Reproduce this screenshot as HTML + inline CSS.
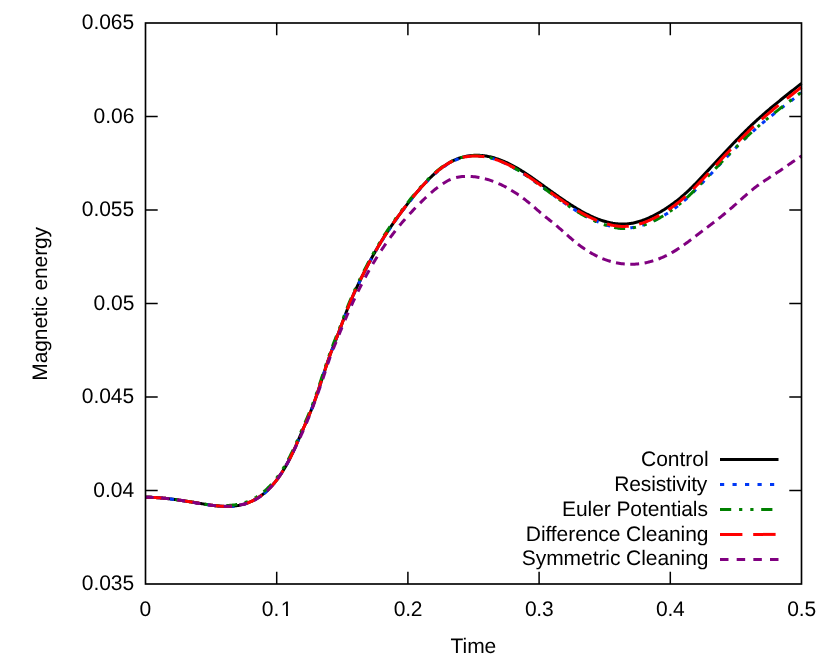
<!DOCTYPE html>
<html><head><meta charset="utf-8"><title>Magnetic energy</title>
<style>html,body{margin:0;padding:0;background:#fff;}body{width:830px;height:664px;overflow:hidden;font-family:"Liberation Sans",sans-serif;}svg{display:block;will-change:transform;text-rendering:geometricPrecision;}</style>
</head><body>
<svg width="830" height="664" viewBox="0 0 830 664">
<rect width="830" height="664" fill="#fff"/>
<g stroke="#000" stroke-width="1.5" fill="none" stroke-linecap="butt">
<path d="M145.5,490.50 h12.2 M801.5,490.50 h-12.2"/>
<path d="M145.5,397.00 h12.2 M801.5,397.00 h-12.2"/>
<path d="M145.5,303.50 h12.2 M801.5,303.50 h-12.2"/>
<path d="M145.5,210.00 h12.2 M801.5,210.00 h-12.2"/>
<path d="M145.5,116.50 h12.2 M801.5,116.50 h-12.2"/>
<path d="M276.70,584.0 v-12.2 M276.70,23.0 v12.2"/>
<path d="M407.90,584.0 v-12.2 M407.90,23.0 v12.2"/>
<path d="M539.10,584.0 v-12.2 M539.10,23.0 v12.2"/>
<path d="M670.30,584.0 v-12.2 M670.30,23.0 v12.2"/>
</g>
<g fill="none" stroke-width="3" stroke-linejoin="round">
<path stroke="#000" d="M145.50,497.23 L146.44,497.23 L147.38,497.24 L148.32,497.26 L149.25,497.28 L150.19,497.31 L151.13,497.34 L152.07,497.38 L153.01,497.42 L153.95,497.47 L154.88,497.52 L155.82,497.57 L156.76,497.63 L157.70,497.70 L158.64,497.77 L159.58,497.84 L160.52,497.91 L161.45,498.00 L162.39,498.08 L163.33,498.17 L164.27,498.26 L165.21,498.35 L166.15,498.45 L167.09,498.55 L168.02,498.66 L168.96,498.77 L169.90,498.88 L170.84,498.99 L171.78,499.11 L172.72,499.23 L173.65,499.35 L174.59,499.47 L175.53,499.60 L176.47,499.73 L177.41,499.86 L178.35,500.00 L179.29,500.13 L180.22,500.27 L181.16,500.41 L182.10,500.55 L183.04,500.69 L183.98,500.83 L184.92,500.98 L185.85,501.13 L186.79,501.27 L187.73,501.42 L188.67,501.57 L189.61,501.72 L190.55,501.88 L191.49,502.03 L192.42,502.18 L193.36,502.33 L194.30,502.49 L195.24,502.64 L196.18,502.80 L197.12,502.95 L198.06,503.10 L198.99,503.26 L199.93,503.41 L200.87,503.57 L201.81,503.72 L202.75,503.87 L203.69,504.02 L204.62,504.17 L205.56,504.32 L206.50,504.47 L207.44,504.62 L208.38,504.76 L209.32,504.90 L210.26,505.04 L211.19,505.17 L212.13,505.30 L213.07,505.42 L214.01,505.54 L214.95,505.65 L215.89,505.76 L216.82,505.86 L217.76,505.95 L218.70,506.03 L219.64,506.11 L220.58,506.18 L221.52,506.25 L222.46,506.30 L223.39,506.34 L224.33,506.38 L225.27,506.40 L226.21,506.41 L227.15,506.42 L228.09,506.41 L229.03,506.39 L229.96,506.35 L230.90,506.31 L231.84,506.25 L232.78,506.18 L233.72,506.09 L234.66,505.99 L235.59,505.88 L236.53,505.75 L237.47,505.61 L238.41,505.44 L239.35,505.27 L240.29,505.07 L241.23,504.86 L242.16,504.64 L243.10,504.39 L244.04,504.13 L244.98,503.84 L245.92,503.54 L246.86,503.22 L247.79,502.88 L248.73,502.51 L249.67,502.13 L250.61,501.73 L251.55,501.30 L252.49,500.85 L253.43,500.38 L254.36,499.89 L255.30,499.37 L256.24,498.83 L257.18,498.27 L258.12,497.68 L259.06,497.07 L259.99,496.43 L260.93,495.76 L261.87,495.07 L262.81,494.35 L263.75,493.60 L264.69,492.82 L265.63,492.01 L266.56,491.18 L267.50,490.31 L268.44,489.40 L269.38,488.47 L270.32,487.50 L271.26,486.50 L272.20,485.46 L273.13,484.39 L274.07,483.28 L275.01,482.14 L275.95,480.96 L276.89,479.74 L277.83,478.48 L278.76,477.18 L279.70,475.84 L280.64,474.45 L281.58,473.03 L282.52,471.56 L283.46,470.06 L284.40,468.50 L285.33,466.90 L286.27,465.26 L287.21,463.57 L288.15,461.84 L289.09,460.05 L290.03,458.22 L290.96,456.34 L291.90,454.41 L292.84,452.43 L293.78,450.40 L294.72,448.34 L295.66,446.25 L296.60,444.12 L297.53,441.97 L298.47,439.81 L299.41,437.63 L300.35,435.45 L301.29,433.27 L302.23,431.09 L303.17,428.92 L304.10,426.77 L305.04,424.63 L305.98,422.50 L306.92,420.36 L307.86,418.20 L308.80,416.00 L309.73,413.76 L310.67,411.46 L311.61,409.10 L312.55,406.65 L313.49,404.13 L314.43,401.54 L315.37,398.89 L316.30,396.19 L317.24,393.44 L318.18,390.65 L319.12,387.83 L320.06,384.99 L321.00,382.13 L321.93,379.25 L322.87,376.38 L323.81,373.51 L324.75,370.65 L325.69,367.80 L326.63,364.99 L327.57,362.20 L328.50,359.46 L329.44,356.76 L330.38,354.11 L331.32,351.50 L332.26,348.95 L333.20,346.44 L334.14,343.98 L335.07,341.57 L336.01,339.21 L336.95,336.85 L337.89,334.49 L338.83,332.08 L339.77,329.63 L340.70,327.14 L341.64,324.62 L342.58,322.09 L343.52,319.55 L344.46,317.01 L345.40,314.49 L346.34,311.99 L347.27,309.52 L348.21,307.11 L349.15,304.75 L350.09,302.44 L351.03,300.19 L351.97,297.99 L352.90,295.84 L353.84,293.73 L354.78,291.65 L355.72,289.62 L356.66,287.61 L357.60,285.63 L358.54,283.67 L359.47,281.73 L360.41,279.80 L361.35,277.90 L362.29,276.00 L363.23,274.13 L364.17,272.26 L365.11,270.42 L366.04,268.59 L366.98,266.78 L367.92,264.98 L368.86,263.21 L369.80,261.45 L370.74,259.71 L371.67,257.99 L372.61,256.28 L373.55,254.60 L374.49,252.94 L375.43,251.29 L376.37,249.67 L377.31,248.06 L378.24,246.47 L379.18,244.90 L380.12,243.35 L381.06,241.81 L382.00,240.29 L382.94,238.79 L383.87,237.30 L384.81,235.83 L385.75,234.37 L386.69,232.93 L387.63,231.50 L388.57,230.08 L389.51,228.68 L390.44,227.30 L391.38,225.92 L392.32,224.56 L393.26,223.21 L394.20,221.87 L395.14,220.54 L396.08,219.22 L397.01,217.91 L397.95,216.61 L398.89,215.32 L399.83,214.04 L400.77,212.77 L401.71,211.51 L402.64,210.26 L403.58,209.01 L404.52,207.77 L405.46,206.54 L406.40,205.31 L407.34,204.09 L408.28,202.89 L409.21,201.69 L410.15,200.50 L411.09,199.32 L412.03,198.14 L412.97,196.98 L413.91,195.83 L414.84,194.69 L415.78,193.56 L416.72,192.44 L417.66,191.34 L418.60,190.24 L419.54,189.16 L420.48,188.09 L421.41,187.03 L422.35,185.98 L423.29,184.95 L424.23,183.93 L425.17,182.92 L426.11,181.93 L427.05,180.96 L427.98,179.99 L428.92,179.05 L429.86,178.12 L430.80,177.20 L431.74,176.30 L432.68,175.41 L433.61,174.55 L434.55,173.69 L435.49,172.86 L436.43,172.04 L437.37,171.24 L438.31,170.46 L439.25,169.70 L440.18,168.95 L441.12,168.23 L442.06,167.52 L443.00,166.83 L443.94,166.17 L444.88,165.52 L445.81,164.89 L446.75,164.28 L447.69,163.70 L448.63,163.13 L449.57,162.59 L450.51,162.07 L451.45,161.56 L452.38,161.08 L453.32,160.62 L454.26,160.18 L455.20,159.76 L456.14,159.36 L457.08,158.98 L458.02,158.62 L458.95,158.28 L459.89,157.96 L460.83,157.65 L461.77,157.37 L462.71,157.10 L463.65,156.86 L464.58,156.63 L465.52,156.42 L466.46,156.23 L467.40,156.06 L468.34,155.90 L469.28,155.76 L470.22,155.64 L471.15,155.54 L472.09,155.45 L473.03,155.38 L473.97,155.33 L474.91,155.29 L475.85,155.27 L476.78,155.27 L477.72,155.28 L478.66,155.31 L479.60,155.36 L480.54,155.42 L481.48,155.49 L482.42,155.58 L483.35,155.69 L484.29,155.81 L485.23,155.94 L486.17,156.09 L487.11,156.25 L488.05,156.43 L488.98,156.62 L489.92,156.83 L490.86,157.05 L491.80,157.28 L492.74,157.53 L493.68,157.78 L494.62,158.06 L495.55,158.34 L496.49,158.64 L497.43,158.95 L498.37,159.27 L499.31,159.61 L500.25,159.95 L501.19,160.31 L502.12,160.68 L503.06,161.07 L504.00,161.46 L504.94,161.86 L505.88,162.28 L506.82,162.71 L507.75,163.15 L508.69,163.60 L509.63,164.06 L510.57,164.53 L511.51,165.01 L512.45,165.50 L513.39,166.00 L514.32,166.51 L515.26,167.03 L516.20,167.56 L517.14,168.09 L518.08,168.64 L519.02,169.20 L519.95,169.76 L520.89,170.34 L521.83,170.92 L522.77,171.51 L523.71,172.11 L524.65,172.71 L525.59,173.32 L526.52,173.94 L527.46,174.56 L528.40,175.19 L529.34,175.82 L530.28,176.46 L531.22,177.10 L532.16,177.75 L533.09,178.40 L534.03,179.06 L534.97,179.72 L535.91,180.38 L536.85,181.05 L537.79,181.71 L538.72,182.38 L539.66,183.06 L540.60,183.73 L541.54,184.40 L542.48,185.08 L543.42,185.75 L544.36,186.43 L545.29,187.11 L546.23,187.78 L547.17,188.46 L548.11,189.14 L549.05,189.81 L549.99,190.49 L550.92,191.16 L551.86,191.83 L552.80,192.50 L553.74,193.17 L554.68,193.84 L555.62,194.50 L556.56,195.17 L557.49,195.83 L558.43,196.49 L559.37,197.14 L560.31,197.79 L561.25,198.44 L562.19,199.09 L563.13,199.73 L564.06,200.36 L565.00,201.00 L565.94,201.63 L566.88,202.25 L567.82,202.87 L568.76,203.49 L569.69,204.10 L570.63,204.70 L571.57,205.30 L572.51,205.89 L573.45,206.48 L574.39,207.06 L575.33,207.64 L576.26,208.21 L577.20,208.77 L578.14,209.33 L579.08,209.87 L580.02,210.41 L580.96,210.95 L581.89,211.47 L582.83,211.99 L583.77,212.50 L584.71,213.00 L585.65,213.50 L586.59,213.98 L587.53,214.46 L588.46,214.93 L589.40,215.38 L590.34,215.83 L591.28,216.27 L592.22,216.70 L593.16,217.12 L594.10,217.53 L595.03,217.92 L595.97,218.31 L596.91,218.69 L597.85,219.05 L598.79,219.41 L599.73,219.75 L600.66,220.08 L601.60,220.40 L602.54,220.71 L603.48,221.00 L604.42,221.29 L605.36,221.56 L606.30,221.81 L607.23,222.06 L608.17,222.29 L609.11,222.51 L610.05,222.71 L610.99,222.90 L611.93,223.08 L612.86,223.25 L613.80,223.40 L614.74,223.53 L615.68,223.65 L616.62,223.76 L617.56,223.85 L618.50,223.92 L619.43,223.99 L620.37,224.03 L621.31,224.06 L622.25,224.08 L623.19,224.07 L624.13,224.06 L625.07,224.02 L626.00,223.97 L626.94,223.90 L627.88,223.82 L628.82,223.72 L629.76,223.60 L630.70,223.47 L631.63,223.32 L632.57,223.15 L633.51,222.96 L634.45,222.76 L635.39,222.55 L636.33,222.32 L637.27,222.07 L638.20,221.81 L639.14,221.54 L640.08,221.25 L641.02,220.94 L641.96,220.62 L642.90,220.29 L643.83,219.95 L644.77,219.59 L645.71,219.22 L646.65,218.83 L647.59,218.44 L648.53,218.03 L649.47,217.61 L650.40,217.17 L651.34,216.73 L652.28,216.27 L653.22,215.81 L654.16,215.33 L655.10,214.84 L656.04,214.34 L656.97,213.83 L657.91,213.31 L658.85,212.78 L659.79,212.25 L660.73,211.70 L661.67,211.14 L662.60,210.58 L663.54,210.00 L664.48,209.41 L665.42,208.82 L666.36,208.21 L667.30,207.59 L668.24,206.96 L669.17,206.32 L670.11,205.67 L671.05,205.01 L671.99,204.34 L672.93,203.66 L673.87,202.97 L674.80,202.26 L675.74,201.54 L676.68,200.82 L677.62,200.08 L678.56,199.32 L679.50,198.56 L680.44,197.78 L681.37,197.00 L682.31,196.19 L683.25,195.38 L684.19,194.56 L685.13,193.72 L686.07,192.87 L687.01,192.00 L687.94,191.12 L688.88,190.23 L689.82,189.33 L690.76,188.42 L691.70,187.49 L692.64,186.56 L693.57,185.61 L694.51,184.66 L695.45,183.70 L696.39,182.73 L697.33,181.76 L698.27,180.79 L699.21,179.80 L700.14,178.82 L701.08,177.83 L702.02,176.85 L702.96,175.85 L703.90,174.86 L704.84,173.86 L705.77,172.87 L706.71,171.87 L707.65,170.86 L708.59,169.86 L709.53,168.86 L710.47,167.85 L711.41,166.84 L712.34,165.84 L713.28,164.83 L714.22,163.82 L715.16,162.81 L716.10,161.80 L717.04,160.79 L717.97,159.78 L718.91,158.78 L719.85,157.77 L720.79,156.76 L721.73,155.75 L722.67,154.75 L723.61,153.74 L724.54,152.74 L725.48,151.74 L726.42,150.74 L727.36,149.74 L728.30,148.74 L729.24,147.75 L730.18,146.76 L731.11,145.77 L732.05,144.78 L732.99,143.80 L733.93,142.82 L734.87,141.84 L735.81,140.86 L736.74,139.89 L737.68,138.92 L738.62,137.96 L739.56,137.00 L740.50,136.04 L741.44,135.09 L742.38,134.15 L743.31,133.20 L744.25,132.27 L745.19,131.33 L746.13,130.40 L747.07,129.48 L748.01,128.56 L748.94,127.65 L749.88,126.75 L750.82,125.85 L751.76,124.95 L752.70,124.06 L753.64,123.18 L754.58,122.31 L755.51,121.44 L756.45,120.58 L757.39,119.72 L758.33,118.87 L759.27,118.02 L760.21,117.18 L761.15,116.35 L762.08,115.52 L763.02,114.70 L763.96,113.88 L764.90,113.06 L765.84,112.25 L766.78,111.45 L767.71,110.65 L768.65,109.85 L769.59,109.06 L770.53,108.27 L771.47,107.48 L772.41,106.70 L773.35,105.92 L774.28,105.15 L775.22,104.38 L776.16,103.61 L777.10,102.84 L778.04,102.07 L778.98,101.31 L779.91,100.55 L780.85,99.79 L781.79,99.04 L782.73,98.28 L783.67,97.53 L784.61,96.78 L785.55,96.03 L786.48,95.28 L787.42,94.53 L788.36,93.78 L789.30,93.03 L790.24,92.29 L791.18,91.54 L792.12,90.79 L793.05,90.05 L793.99,89.30 L794.93,88.55 L795.87,87.81 L796.81,87.06 L797.75,86.31 L798.68,85.56 L799.62,84.81 L800.56,84.05 L801.50,83.30"/>
<path stroke="#0038f5" stroke-dasharray="4.102 8.105" d="M145.50,497.23 L146.44,497.23 L147.38,497.25 L148.32,497.26 L149.25,497.29 L150.19,497.32 L151.13,497.35 L152.07,497.39 L153.01,497.43 L153.95,497.48 L154.88,497.53 L155.82,497.59 L156.76,497.65 L157.70,497.72 L158.64,497.79 L159.58,497.86 L160.52,497.94 L161.45,498.02 L162.39,498.11 L163.33,498.20 L164.27,498.29 L165.21,498.38 L166.15,498.48 L167.09,498.59 L168.02,498.69 L168.96,498.80 L169.90,498.92 L170.84,499.03 L171.78,499.15 L172.72,499.27 L173.65,499.39 L174.59,499.52 L175.53,499.65 L176.47,499.78 L177.41,499.91 L178.35,500.05 L179.29,500.18 L180.22,500.32 L181.16,500.46 L182.10,500.61 L183.04,500.75 L183.98,500.89 L184.92,501.04 L185.85,501.19 L186.79,501.34 L187.73,501.49 L188.67,501.64 L189.61,501.79 L190.55,501.95 L191.49,502.10 L192.42,502.25 L193.36,502.41 L194.30,502.56 L195.24,502.72 L196.18,502.87 L197.12,503.03 L198.06,503.19 L198.99,503.34 L199.93,503.50 L200.87,503.65 L201.81,503.81 L202.75,503.96 L203.69,504.11 L204.62,504.27 L205.56,504.42 L206.50,504.57 L207.44,504.71 L208.38,504.86 L209.32,505.00 L210.26,505.14 L211.19,505.27 L212.13,505.40 L213.07,505.52 L214.01,505.64 L214.95,505.76 L215.89,505.86 L216.82,505.97 L217.76,506.06 L218.70,506.15 L219.64,506.23 L220.58,506.30 L221.52,506.36 L222.46,506.42 L223.39,506.46 L224.33,506.50 L225.27,506.52 L226.21,506.54 L227.15,506.54 L228.09,506.54 L229.03,506.52 L229.96,506.48 L230.90,506.44 L231.84,506.38 L232.78,506.31 L233.72,506.23 L234.66,506.13 L235.59,506.02 L236.53,505.89 L237.47,505.75 L238.41,505.59 L239.35,505.41 L240.29,505.22 L241.23,505.01 L242.16,504.79 L243.10,504.54 L244.04,504.28 L244.98,504.00 L245.92,503.70 L246.86,503.37 L247.79,503.03 L248.73,502.67 L249.67,502.29 L250.61,501.89 L251.55,501.46 L252.49,501.02 L253.43,500.55 L254.36,500.06 L255.30,499.54 L256.24,499.00 L257.18,498.44 L258.12,497.85 L259.06,497.24 L259.99,496.60 L260.93,495.94 L261.87,495.25 L262.81,494.53 L263.75,493.78 L264.69,493.01 L265.63,492.20 L266.56,491.36 L267.50,490.49 L268.44,489.59 L269.38,488.66 L270.32,487.70 L271.26,486.70 L272.20,485.66 L273.13,484.59 L274.07,483.48 L275.01,482.34 L275.95,481.16 L276.89,479.94 L277.83,478.68 L278.76,477.38 L279.70,476.04 L280.64,474.66 L281.58,473.24 L282.52,471.78 L283.46,470.27 L284.40,468.72 L285.33,467.12 L286.27,465.48 L287.21,463.79 L288.15,462.06 L289.09,460.27 L290.03,458.44 L290.96,456.56 L291.90,454.63 L292.84,452.66 L293.78,450.63 L294.72,448.57 L295.66,446.48 L296.60,444.35 L297.53,442.21 L298.47,440.05 L299.41,437.87 L300.35,435.69 L301.29,433.51 L302.23,431.33 L303.17,429.17 L304.10,427.01 L305.04,424.88 L305.98,422.75 L306.92,420.61 L307.86,418.45 L308.80,416.25 L309.73,414.02 L310.67,411.72 L311.61,409.35 L312.55,406.91 L313.49,404.39 L314.43,401.80 L315.37,399.16 L316.30,396.45 L317.24,393.71 L318.18,390.92 L319.12,388.10 L320.06,385.26 L321.00,382.40 L321.93,379.53 L322.87,376.65 L323.81,373.78 L324.75,370.92 L325.69,368.08 L326.63,365.26 L327.57,362.48 L328.50,359.74 L329.44,357.04 L330.38,354.39 L331.32,351.79 L332.26,349.24 L333.20,346.73 L334.14,344.27 L335.07,341.87 L336.01,339.50 L336.95,337.15 L337.89,334.78 L338.83,332.38 L339.77,329.93 L340.70,327.44 L341.64,324.93 L342.58,322.39 L343.52,319.85 L344.46,317.32 L345.40,314.79 L346.34,312.30 L347.27,309.84 L348.21,307.42 L349.15,305.06 L350.09,302.76 L351.03,300.51 L351.97,298.31 L352.90,296.16 L353.84,294.05 L354.78,291.98 L355.72,289.94 L356.66,287.93 L357.60,285.95 L358.54,284.00 L359.47,282.06 L360.41,280.14 L361.35,278.23 L362.29,276.34 L363.23,274.46 L364.17,272.60 L365.11,270.76 L366.04,268.93 L366.98,267.12 L367.92,265.33 L368.86,263.55 L369.80,261.79 L370.74,260.05 L371.67,258.33 L372.61,256.63 L373.55,254.95 L374.49,253.29 L375.43,251.65 L376.37,250.02 L377.31,248.42 L378.24,246.83 L379.18,245.26 L380.12,243.71 L381.06,242.17 L382.00,240.66 L382.94,239.15 L383.87,237.67 L384.81,236.20 L385.75,234.74 L386.69,233.30 L387.63,231.87 L388.57,230.46 L389.51,229.06 L390.44,227.67 L391.38,226.30 L392.32,224.94 L393.26,223.59 L394.20,222.25 L395.14,220.92 L396.08,219.61 L397.01,218.30 L397.95,217.00 L398.89,215.71 L399.83,214.44 L400.77,213.17 L401.71,211.91 L402.64,210.65 L403.58,209.41 L404.52,208.17 L405.46,206.94 L406.40,205.71 L407.34,204.50 L408.28,203.29 L409.21,202.09 L410.15,200.90 L411.09,199.72 L412.03,198.55 L412.97,197.39 L413.91,196.25 L414.84,195.11 L415.78,193.98 L416.72,192.86 L417.66,191.75 L418.60,190.66 L419.54,189.58 L420.48,188.51 L421.41,187.45 L422.35,186.41 L423.29,185.38 L424.23,184.36 L425.17,183.36 L426.11,182.37 L427.05,181.39 L427.98,180.43 L428.92,179.48 L429.86,178.55 L430.80,177.64 L431.74,176.74 L432.68,175.86 L433.61,174.99 L434.55,174.14 L435.49,173.31 L436.43,172.49 L437.37,171.69 L438.31,170.91 L439.25,170.15 L440.18,169.41 L441.12,168.68 L442.06,167.98 L443.00,167.29 L443.94,166.63 L444.88,165.98 L445.81,165.35 L446.75,164.75 L447.69,164.16 L448.63,163.60 L449.57,163.06 L450.51,162.54 L451.45,162.03 L452.38,161.55 L453.32,161.10 L454.26,160.66 L455.20,160.24 L456.14,159.84 L457.08,159.46 L458.02,159.10 L458.95,158.76 L459.89,158.44 L460.83,158.14 L461.77,157.86 L462.71,157.59 L463.65,157.35 L464.58,157.12 L465.52,156.91 L466.46,156.72 L467.40,156.55 L468.34,156.40 L469.28,156.26 L470.22,156.15 L471.15,156.07 L472.09,156.01 L473.03,155.96 L473.97,155.93 L474.91,155.92 L475.85,155.93 L476.78,155.95 L477.72,155.98 L478.66,156.04 L479.60,156.11 L480.54,156.19 L481.48,156.29 L482.42,156.40 L483.35,156.53 L484.29,156.68 L485.23,156.84 L486.17,157.01 L487.11,157.20 L488.05,157.40 L488.98,157.62 L489.92,157.85 L490.86,158.09 L491.80,158.35 L492.74,158.62 L493.68,158.90 L494.62,159.20 L495.55,159.51 L496.49,159.83 L497.43,160.16 L498.37,160.51 L499.31,160.87 L500.25,161.24 L501.19,161.62 L502.12,162.02 L503.06,162.43 L504.00,162.84 L504.94,163.27 L505.88,163.71 L506.82,164.17 L507.75,164.63 L508.69,165.10 L509.63,165.59 L510.57,166.08 L511.51,166.58 L512.45,167.10 L513.39,167.62 L514.32,168.16 L515.26,168.70 L516.20,169.26 L517.14,169.82 L518.08,170.39 L519.02,170.97 L519.95,171.56 L520.89,172.15 L521.83,172.74 L522.77,173.34 L523.71,173.95 L524.65,174.57 L525.59,175.19 L526.52,175.82 L527.46,176.45 L528.40,177.09 L529.34,177.74 L530.28,178.39 L531.22,179.04 L532.16,179.70 L533.09,180.37 L534.03,181.04 L534.97,181.71 L535.91,182.38 L536.85,183.06 L537.79,183.74 L538.72,184.42 L539.66,185.10 L540.60,185.79 L541.54,186.47 L542.48,187.16 L543.42,187.85 L544.36,188.53 L545.29,189.22 L546.23,189.91 L547.17,190.60 L548.11,191.29 L549.05,191.97 L549.99,192.66 L550.92,193.35 L551.86,194.03 L552.80,194.71 L553.74,195.39 L554.68,196.07 L555.62,196.75 L556.56,197.42 L557.49,198.10 L558.43,198.77 L559.37,199.43 L560.31,200.10 L561.25,200.76 L562.19,201.41 L563.13,202.07 L564.06,202.72 L565.00,203.36 L565.94,204.00 L566.88,204.64 L567.82,205.27 L568.76,205.90 L569.69,206.52 L570.63,207.14 L571.57,207.75 L572.51,208.35 L573.45,208.95 L574.39,209.55 L575.33,210.14 L576.26,210.72 L577.20,211.29 L578.14,211.86 L579.08,212.42 L580.02,212.97 L580.96,213.52 L581.89,214.05 L582.83,214.59 L583.77,215.11 L584.71,215.62 L585.65,216.13 L586.59,216.62 L587.53,217.11 L588.46,217.59 L589.40,218.06 L590.34,218.52 L591.28,218.97 L592.22,219.41 L593.16,219.84 L594.10,220.26 L595.03,220.67 L595.97,221.07 L596.91,221.46 L597.85,221.84 L598.79,222.20 L599.73,222.58 L600.66,222.96 L601.60,223.32 L602.54,223.67 L603.48,224.01 L604.42,224.34 L605.36,224.66 L606.30,224.96 L607.23,225.25 L608.17,225.52 L609.11,225.79 L610.05,226.03 L610.99,226.27 L611.93,226.49 L612.86,226.70 L613.80,226.89 L614.74,227.07 L615.68,227.24 L616.62,227.39 L617.56,227.52 L618.50,227.65 L619.43,227.75 L620.37,227.84 L621.31,227.91 L622.25,227.97 L623.19,228.02 L624.13,228.04 L625.07,228.05 L626.00,228.05 L626.94,228.02 L627.88,227.98 L628.82,227.93 L629.76,227.85 L630.70,227.76 L631.63,227.66 L632.57,227.53 L633.51,227.39 L634.45,227.24 L635.39,227.06 L636.33,226.87 L637.27,226.66 L638.20,226.44 L639.14,226.20 L640.08,225.95 L641.02,225.69 L641.96,225.41 L642.90,225.11 L643.83,224.81 L644.77,224.49 L645.71,224.15 L646.65,223.81 L647.59,223.45 L648.53,223.08 L649.47,222.69 L650.40,222.30 L651.34,221.89 L652.28,221.47 L653.22,221.05 L654.16,220.61 L655.10,220.16 L656.04,219.70 L656.97,219.22 L657.91,218.74 L658.85,218.25 L659.79,217.75 L660.73,217.24 L661.67,216.73 L662.60,216.20 L663.54,215.66 L664.48,215.11 L665.42,214.55 L666.36,213.98 L667.30,213.40 L668.24,212.78 L669.17,212.16 L670.11,211.53 L671.05,210.89 L671.99,210.23 L672.93,209.57 L673.87,208.89 L674.80,208.20 L675.74,207.50 L676.68,206.79 L677.62,206.07 L678.56,205.33 L679.50,204.59 L680.44,203.83 L681.37,203.06 L682.31,202.27 L683.25,201.48 L684.19,200.67 L685.13,199.85 L686.07,199.01 L687.01,198.16 L687.94,197.30 L688.88,196.43 L689.82,195.54 L690.76,194.65 L691.70,193.74 L692.64,192.82 L693.57,191.89 L694.51,190.96 L695.45,190.02 L696.39,189.07 L697.33,188.11 L698.27,187.15 L699.21,186.19 L700.14,185.22 L701.08,184.25 L702.02,183.28 L702.96,182.30 L703.90,181.32 L704.84,180.34 L705.77,179.35 L706.71,178.37 L707.65,177.38 L708.59,176.39 L709.53,175.40 L710.47,174.41 L711.41,173.42 L712.34,172.42 L713.28,171.43 L714.22,170.43 L715.16,169.44 L716.10,168.44 L717.04,167.45 L717.97,166.45 L718.91,165.46 L719.85,164.47 L720.79,163.47 L721.73,162.48 L722.67,161.49 L723.61,160.50 L724.54,159.51 L725.48,158.52 L726.42,157.54 L727.36,156.55 L728.30,155.57 L729.24,154.59 L730.18,153.61 L731.11,152.64 L732.05,151.66 L732.99,150.69 L733.93,149.73 L734.87,148.76 L735.81,147.80 L736.74,146.84 L737.68,145.89 L738.62,144.94 L739.56,143.99 L740.50,143.07 L741.44,142.15 L742.38,141.25 L743.31,140.34 L744.25,139.44 L745.19,138.55 L746.13,137.66 L747.07,136.78 L748.01,135.90 L748.94,135.03 L749.88,134.16 L750.82,133.30 L751.76,132.45 L752.70,131.60 L753.64,130.76 L754.58,129.92 L755.51,129.09 L756.45,128.27 L757.39,127.45 L758.33,126.64 L759.27,125.84 L760.21,125.04 L761.15,124.24 L762.08,123.45 L763.02,122.67 L763.96,121.89 L764.90,121.12 L765.84,120.35 L766.78,119.58 L767.71,118.82 L768.65,118.06 L769.59,117.31 L770.53,116.56 L771.47,115.82 L772.41,115.07 L773.35,114.33 L774.28,113.60 L775.22,112.87 L776.16,112.14 L777.10,111.41 L778.04,110.68 L778.98,109.96 L779.91,109.24 L780.85,108.52 L781.79,107.80 L782.73,107.09 L783.67,106.38 L784.61,105.66 L785.55,104.95 L786.48,104.24 L787.42,103.53 L788.36,102.83 L789.30,102.12 L790.24,101.41 L791.18,100.70 L792.12,100.00 L793.05,99.29 L793.99,98.58 L794.93,97.88 L795.87,97.17 L796.81,96.46 L797.75,95.75 L798.68,95.04 L799.62,94.33 L800.56,93.61 L801.50,92.90"/>
<path stroke="#008000" stroke-dasharray="11.054 7.797 3.158 7.896 3.158 7.599" d="M145.50,497.23 L146.44,497.23 L147.38,497.24 L148.32,497.26 L149.25,497.28 L150.19,497.31 L151.13,497.34 L152.07,497.38 L153.01,497.42 L153.95,497.47 L154.88,497.52 L155.82,497.57 L156.76,497.63 L157.70,497.70 L158.64,497.77 L159.58,497.84 L160.52,497.91 L161.45,498.00 L162.39,498.08 L163.33,498.17 L164.27,498.26 L165.21,498.35 L166.15,498.45 L167.09,498.55 L168.02,498.66 L168.96,498.77 L169.90,498.88 L170.84,498.99 L171.78,499.11 L172.72,499.23 L173.65,499.35 L174.59,499.47 L175.53,499.60 L176.47,499.73 L177.41,499.86 L178.35,500.00 L179.29,500.13 L180.22,500.27 L181.16,500.41 L182.10,500.55 L183.04,500.69 L183.98,500.83 L184.92,500.98 L185.85,501.13 L186.79,501.27 L187.73,501.42 L188.67,501.57 L189.61,501.72 L190.55,501.88 L191.49,502.03 L192.42,502.18 L193.36,502.33 L194.30,502.49 L195.24,502.64 L196.18,502.80 L197.12,502.95 L198.06,503.10 L198.99,503.26 L199.93,503.41 L200.87,503.57 L201.81,503.72 L202.75,503.87 L203.69,504.02 L204.62,504.17 L205.56,504.32 L206.50,504.47 L207.44,504.62 L208.38,504.76 L209.32,504.90 L210.26,505.04 L211.19,505.17 L212.13,505.30 L213.07,505.42 L214.01,505.54 L214.95,505.65 L215.89,505.70 L216.82,505.73 L217.76,505.76 L218.70,505.79 L219.64,505.80 L220.58,505.81 L221.52,505.81 L222.46,505.80 L223.39,505.78 L224.33,505.75 L225.27,505.72 L226.21,505.67 L227.15,505.61 L228.09,505.53 L229.03,505.45 L229.96,505.36 L230.90,505.29 L231.84,505.20 L232.78,505.11 L233.72,505.00 L234.66,504.88 L235.59,504.74 L236.53,504.59 L237.47,504.42 L238.41,504.23 L239.35,504.03 L240.29,503.82 L241.23,503.58 L242.16,503.33 L243.10,503.06 L244.04,502.77 L244.98,502.47 L245.92,502.14 L246.86,501.80 L247.79,501.43 L248.73,501.05 L249.67,500.64 L250.61,500.21 L251.55,499.76 L252.49,499.29 L253.43,498.80 L254.36,498.28 L255.30,497.74 L256.24,497.18 L257.18,496.59 L258.12,495.98 L259.06,495.34 L259.99,494.68 L260.93,493.99 L261.87,493.27 L262.81,492.53 L263.75,491.76 L264.69,490.95 L265.63,490.12 L266.56,489.26 L267.50,488.37 L268.44,487.44 L269.38,486.49 L270.32,485.50 L271.26,484.50 L272.20,483.46 L273.13,482.38 L274.07,481.27 L275.01,480.12 L275.95,478.94 L276.89,477.71 L277.83,476.45 L278.76,475.15 L279.70,473.80 L280.64,472.42 L281.58,470.99 L282.52,469.52 L283.46,468.01 L284.40,466.45 L285.33,464.85 L286.27,463.21 L287.21,461.51 L288.15,459.77 L289.09,457.99 L290.03,456.15 L290.96,454.27 L291.90,452.33 L292.84,450.35 L293.78,448.32 L294.72,446.26 L295.66,444.16 L296.60,442.03 L297.53,439.88 L298.47,437.72 L299.41,435.54 L300.35,433.35 L301.29,431.17 L302.23,428.98 L303.17,426.81 L304.10,424.66 L305.04,422.51 L305.98,420.38 L306.92,418.23 L307.86,416.07 L308.80,413.87 L309.73,411.63 L310.67,409.33 L311.61,406.96 L312.55,404.51 L313.49,401.99 L314.43,399.39 L315.37,396.74 L316.30,394.04 L317.24,391.28 L318.18,388.49 L319.12,385.67 L320.06,382.82 L321.00,379.96 L321.93,377.08 L322.87,374.20 L323.81,371.33 L324.75,368.46 L325.69,365.62 L326.63,362.80 L327.57,360.01 L328.50,357.26 L329.44,354.56 L330.38,351.91 L331.32,349.32 L332.26,346.78 L333.20,344.29 L334.14,341.84 L335.07,339.45 L336.01,337.09 L336.95,334.75 L337.89,332.40 L338.83,330.01 L339.77,327.57 L340.70,325.09 L341.64,322.59 L342.58,320.07 L343.52,317.54 L344.46,315.02 L345.40,312.51 L346.34,310.02 L347.27,307.57 L348.21,305.17 L349.15,302.82 L350.09,300.53 L351.03,298.29 L351.97,296.11 L352.90,293.97 L353.84,291.87 L354.78,289.81 L355.72,287.78 L356.66,285.79 L357.60,283.82 L358.54,281.88 L359.47,279.95 L360.41,278.04 L361.35,276.14 L362.29,274.26 L363.23,272.40 L364.17,270.55 L365.11,268.72 L366.04,266.90 L366.98,265.11 L367.92,263.32 L368.86,261.56 L369.80,259.82 L370.74,258.09 L371.67,256.38 L372.61,254.69 L373.55,253.02 L374.49,251.37 L375.43,249.74 L376.37,248.13 L377.31,246.53 L378.24,244.96 L379.18,243.40 L380.12,241.86 L381.06,240.34 L382.00,238.83 L382.94,237.34 L383.87,235.87 L384.81,234.41 L385.75,232.97 L386.69,231.54 L387.63,230.12 L388.57,228.72 L389.51,227.33 L390.44,225.96 L391.38,224.60 L392.32,223.25 L393.26,221.91 L394.20,220.58 L395.14,219.27 L396.08,217.96 L397.01,216.67 L397.95,215.38 L398.89,214.11 L399.83,212.84 L400.77,211.59 L401.71,210.34 L402.64,209.10 L403.58,207.87 L404.52,206.65 L405.46,205.43 L406.40,204.23 L407.34,203.03 L408.28,201.83 L409.21,200.65 L410.15,199.48 L411.09,198.31 L412.03,197.16 L412.97,196.02 L413.91,194.88 L414.84,193.76 L415.78,192.65 L416.72,191.54 L417.66,190.45 L418.60,189.37 L419.54,188.31 L420.48,187.25 L421.41,186.21 L422.35,185.18 L423.29,184.17 L424.23,183.17 L425.17,182.18 L426.11,181.20 L427.05,180.24 L427.98,179.30 L428.92,178.37 L429.86,177.45 L430.80,176.55 L431.74,175.67 L432.68,174.80 L433.61,173.95 L434.55,173.12 L435.49,172.30 L436.43,171.50 L437.37,170.72 L438.31,169.95 L439.25,169.21 L440.18,168.48 L441.12,167.77 L442.06,167.08 L443.00,166.41 L443.94,165.76 L444.88,165.13 L445.81,164.51 L446.75,163.92 L447.69,163.36 L448.63,162.81 L449.57,162.28 L450.51,161.78 L451.45,161.31 L452.38,160.85 L453.32,160.42 L454.26,160.01 L455.20,159.61 L456.14,159.24 L457.08,158.89 L458.02,158.56 L458.95,158.24 L459.89,157.95 L460.83,157.67 L461.77,157.42 L462.71,157.18 L463.65,156.96 L464.58,156.76 L465.52,156.58 L466.46,156.42 L467.40,156.27 L468.34,156.14 L469.28,156.03 L470.22,155.94 L471.15,155.87 L472.09,155.81 L473.03,155.77 L473.97,155.74 L474.91,155.73 L475.85,155.74 L476.78,155.76 L477.72,155.80 L478.66,155.85 L479.60,155.92 L480.54,156.01 L481.48,156.11 L482.42,156.22 L483.35,156.35 L484.29,156.49 L485.23,156.65 L486.17,156.82 L487.11,157.01 L488.05,157.21 L488.98,157.43 L489.92,157.66 L490.86,157.90 L491.80,158.16 L492.74,158.43 L493.68,158.71 L494.62,159.01 L495.55,159.32 L496.49,159.64 L497.43,159.97 L498.37,160.32 L499.31,160.68 L500.25,161.05 L501.19,161.43 L502.12,161.83 L503.06,162.23 L504.00,162.65 L504.94,163.08 L505.88,163.52 L506.82,163.97 L507.75,164.43 L508.69,164.91 L509.63,165.39 L510.57,165.88 L511.51,166.39 L512.45,166.90 L513.39,167.43 L514.32,167.96 L515.26,168.50 L516.20,169.06 L517.14,169.62 L518.08,170.19 L519.02,170.77 L519.95,171.36 L520.89,171.96 L521.83,172.56 L522.77,173.16 L523.71,173.78 L524.65,174.40 L525.59,175.03 L526.52,175.67 L527.46,176.31 L528.40,176.96 L529.34,177.61 L530.28,178.27 L531.22,178.93 L532.16,179.60 L533.09,180.27 L534.03,180.94 L534.97,181.62 L535.91,182.30 L536.85,182.98 L537.79,183.67 L538.72,184.36 L539.66,185.05 L540.60,185.74 L541.54,186.43 L542.48,187.13 L543.42,187.82 L544.36,188.52 L545.29,189.21 L546.23,189.91 L547.17,190.60 L548.11,191.30 L549.05,191.99 L549.99,192.69 L550.92,193.38 L551.86,194.07 L552.80,194.76 L553.74,195.45 L554.68,196.13 L555.62,196.82 L556.56,197.50 L557.49,198.18 L558.43,198.85 L559.37,199.53 L560.31,200.20 L561.25,200.87 L562.19,201.54 L563.13,202.20 L564.06,202.86 L565.00,203.51 L565.94,204.17 L566.88,204.81 L567.82,205.45 L568.76,206.09 L569.69,206.72 L570.63,207.35 L571.57,207.97 L572.51,208.59 L573.45,209.20 L574.39,209.80 L575.33,210.40 L576.26,210.99 L577.20,211.57 L578.14,212.15 L579.08,212.72 L580.02,213.28 L580.96,213.84 L581.89,214.39 L582.83,214.93 L583.77,215.46 L584.71,215.98 L585.65,216.50 L586.59,217.00 L587.53,217.50 L588.46,217.99 L589.40,218.47 L590.34,218.94 L591.28,219.40 L592.22,219.85 L593.16,220.29 L594.10,220.72 L595.03,221.14 L595.97,221.55 L596.91,221.95 L597.85,222.34 L598.79,222.71 L599.73,223.08 L600.66,223.43 L601.60,223.77 L602.54,224.10 L603.48,224.42 L604.42,224.72 L605.36,225.02 L606.30,225.30 L607.23,225.57 L608.17,225.87 L609.11,226.14 L610.05,226.41 L610.99,226.66 L611.93,226.90 L612.86,227.12 L613.80,227.33 L614.74,227.53 L615.68,227.71 L616.62,227.88 L617.56,228.03 L618.50,228.16 L619.43,228.29 L620.37,228.39 L621.31,228.47 L622.25,228.52 L623.19,228.54 L624.13,228.55 L625.07,228.55 L626.00,228.53 L626.94,228.49 L627.88,228.44 L628.82,228.37 L629.76,228.28 L630.70,228.17 L631.63,228.05 L632.57,227.91 L633.51,227.76 L634.45,227.59 L635.39,227.40 L636.33,227.20 L637.27,226.99 L638.20,226.75 L639.14,226.51 L640.08,226.25 L641.02,225.97 L641.96,225.69 L642.90,225.38 L643.83,225.07 L644.77,224.74 L645.71,224.40 L646.65,224.04 L647.59,223.68 L648.53,223.30 L649.47,222.90 L650.40,222.50 L651.34,222.09 L652.28,221.66 L653.22,221.22 L654.16,220.77 L655.10,220.32 L656.04,219.85 L656.97,219.37 L657.91,218.88 L658.85,218.38 L659.79,217.85 L660.73,217.30 L661.67,216.74 L662.60,216.18 L663.54,215.60 L664.48,215.01 L665.42,214.42 L666.36,213.81 L667.30,213.19 L668.24,212.56 L669.17,211.92 L670.11,211.27 L671.05,210.61 L671.99,209.94 L672.93,209.26 L673.87,208.57 L674.80,207.86 L675.74,207.14 L676.68,206.42 L677.62,205.68 L678.56,204.92 L679.50,204.16 L680.44,203.38 L681.37,202.60 L682.31,201.79 L683.25,200.98 L684.19,200.16 L685.13,199.32 L686.07,198.47 L687.01,197.60 L687.94,196.72 L688.88,195.83 L689.82,194.93 L690.76,194.02 L691.70,193.09 L692.64,192.16 L693.57,191.21 L694.51,190.26 L695.45,189.30 L696.39,188.33 L697.33,187.36 L698.27,186.39 L699.21,185.40 L700.14,184.43 L701.08,183.47 L702.02,182.51 L702.96,181.54 L703.90,180.58 L704.84,179.61 L705.77,178.64 L706.71,177.67 L707.65,176.69 L708.59,175.72 L709.53,174.74 L710.47,173.76 L711.41,172.79 L712.34,171.81 L713.28,170.83 L714.22,169.85 L715.16,168.87 L716.10,167.89 L717.04,166.90 L717.97,165.92 L718.91,164.94 L719.85,163.96 L720.79,162.98 L721.73,162.01 L722.67,161.03 L723.61,160.05 L724.54,159.08 L725.48,158.10 L726.42,157.13 L727.36,156.16 L728.30,155.19 L729.24,154.23 L730.18,153.26 L731.11,152.30 L732.05,151.34 L732.99,150.39 L733.93,149.43 L734.87,148.48 L735.81,147.54 L736.74,146.59 L737.68,145.66 L738.62,144.72 L739.56,143.79 L740.50,142.86 L741.44,141.94 L742.38,141.02 L743.31,140.11 L744.25,139.20 L745.19,138.30 L746.13,137.40 L747.07,136.51 L748.01,135.62 L748.94,134.74 L749.88,133.87 L750.82,133.00 L751.76,132.13 L752.70,131.28 L753.64,130.43 L754.58,129.58 L755.51,128.74 L756.45,127.91 L757.39,127.08 L758.33,126.26 L759.27,125.45 L760.21,124.64 L761.15,123.84 L762.08,123.04 L763.02,122.25 L763.96,121.46 L764.90,120.67 L765.84,119.90 L766.78,119.12 L767.71,118.35 L768.65,117.58 L769.59,116.82 L770.53,116.06 L771.47,115.31 L772.41,114.56 L773.35,113.81 L774.28,113.06 L775.22,112.32 L776.16,111.58 L777.10,110.85 L778.04,110.11 L778.98,109.38 L779.91,108.65 L780.85,107.92 L781.79,107.20 L782.73,106.47 L783.67,105.75 L784.61,105.03 L785.55,104.31 L786.48,103.59 L787.42,102.87 L788.36,102.15 L789.30,101.44 L790.24,100.72 L791.18,100.01 L792.12,99.29 L793.05,98.57 L793.99,97.86 L794.93,97.14 L795.87,96.42 L796.81,95.70 L797.75,94.99 L798.68,94.27 L799.62,93.54 L800.56,92.82 L801.50,92.10"/>
<path stroke="#ff0000" stroke-dasharray="21.970 10.600" d="M145.50,497.23 L146.44,497.23 L147.38,497.24 L148.32,497.26 L149.25,497.28 L150.19,497.31 L151.13,497.34 L152.07,497.38 L153.01,497.42 L153.95,497.47 L154.88,497.52 L155.82,497.57 L156.76,497.63 L157.70,497.70 L158.64,497.77 L159.58,497.84 L160.52,497.91 L161.45,498.00 L162.39,498.08 L163.33,498.17 L164.27,498.26 L165.21,498.35 L166.15,498.45 L167.09,498.55 L168.02,498.66 L168.96,498.77 L169.90,498.88 L170.84,498.99 L171.78,499.11 L172.72,499.23 L173.65,499.35 L174.59,499.47 L175.53,499.60 L176.47,499.73 L177.41,499.86 L178.35,500.00 L179.29,500.13 L180.22,500.27 L181.16,500.41 L182.10,500.55 L183.04,500.69 L183.98,500.83 L184.92,500.98 L185.85,501.13 L186.79,501.27 L187.73,501.42 L188.67,501.57 L189.61,501.72 L190.55,501.88 L191.49,502.03 L192.42,502.18 L193.36,502.33 L194.30,502.49 L195.24,502.64 L196.18,502.80 L197.12,502.95 L198.06,503.10 L198.99,503.26 L199.93,503.41 L200.87,503.57 L201.81,503.72 L202.75,503.87 L203.69,504.02 L204.62,504.17 L205.56,504.32 L206.50,504.47 L207.44,504.62 L208.38,504.76 L209.32,504.90 L210.26,505.04 L211.19,505.17 L212.13,505.30 L213.07,505.42 L214.01,505.54 L214.95,505.65 L215.89,505.76 L216.82,505.86 L217.76,505.95 L218.70,506.03 L219.64,506.11 L220.58,506.18 L221.52,506.25 L222.46,506.30 L223.39,506.34 L224.33,506.38 L225.27,506.40 L226.21,506.41 L227.15,506.42 L228.09,506.41 L229.03,506.39 L229.96,506.35 L230.90,506.31 L231.84,506.25 L232.78,506.18 L233.72,506.09 L234.66,505.99 L235.59,505.88 L236.53,505.75 L237.47,505.61 L238.41,505.44 L239.35,505.27 L240.29,505.07 L241.23,504.86 L242.16,504.64 L243.10,504.39 L244.04,504.13 L244.98,503.84 L245.92,503.54 L246.86,503.22 L247.79,502.88 L248.73,502.51 L249.67,502.13 L250.61,501.73 L251.55,501.30 L252.49,500.85 L253.43,500.38 L254.36,499.89 L255.30,499.37 L256.24,498.83 L257.18,498.27 L258.12,497.68 L259.06,497.07 L259.99,496.43 L260.93,495.76 L261.87,495.07 L262.81,494.35 L263.75,493.60 L264.69,492.82 L265.63,492.01 L266.56,491.18 L267.50,490.31 L268.44,489.40 L269.38,488.47 L270.32,487.50 L271.26,486.50 L272.20,485.46 L273.13,484.39 L274.07,483.28 L275.01,482.14 L275.95,480.96 L276.89,479.74 L277.83,478.48 L278.76,477.18 L279.70,475.84 L280.64,474.45 L281.58,473.03 L282.52,471.56 L283.46,470.06 L284.40,468.50 L285.33,466.90 L286.27,465.26 L287.21,463.57 L288.15,461.84 L289.09,460.05 L290.03,458.22 L290.96,456.34 L291.90,454.41 L292.84,452.43 L293.78,450.40 L294.72,448.34 L295.66,446.25 L296.60,444.12 L297.53,441.97 L298.47,439.81 L299.41,437.63 L300.35,435.45 L301.29,433.27 L302.23,431.09 L303.17,428.92 L304.10,426.77 L305.04,424.63 L305.98,422.50 L306.92,420.36 L307.86,418.20 L308.80,416.00 L309.73,413.76 L310.67,411.46 L311.61,409.10 L312.55,406.65 L313.49,404.13 L314.43,401.54 L315.37,398.89 L316.30,396.19 L317.24,393.44 L318.18,390.65 L319.12,387.83 L320.06,384.99 L321.00,382.13 L321.93,379.25 L322.87,376.38 L323.81,373.51 L324.75,370.65 L325.69,367.80 L326.63,364.99 L327.57,362.20 L328.50,359.46 L329.44,356.76 L330.38,354.11 L331.32,351.50 L332.26,348.95 L333.20,346.44 L334.14,343.98 L335.07,341.57 L336.01,339.21 L336.95,336.85 L337.89,334.49 L338.83,332.08 L339.77,329.63 L340.70,327.14 L341.64,324.62 L342.58,322.09 L343.52,319.55 L344.46,317.01 L345.40,314.49 L346.34,311.99 L347.27,309.52 L348.21,307.11 L349.15,304.75 L350.09,302.44 L351.03,300.19 L351.97,297.99 L352.90,295.84 L353.84,293.73 L354.78,291.65 L355.72,289.62 L356.66,287.61 L357.60,285.63 L358.54,283.67 L359.47,281.73 L360.41,279.80 L361.35,277.90 L362.29,276.00 L363.23,274.13 L364.17,272.26 L365.11,270.42 L366.04,268.59 L366.98,266.78 L367.92,264.98 L368.86,263.21 L369.80,261.45 L370.74,259.71 L371.67,257.99 L372.61,256.28 L373.55,254.60 L374.49,252.94 L375.43,251.29 L376.37,249.67 L377.31,248.06 L378.24,246.47 L379.18,244.90 L380.12,243.35 L381.06,241.81 L382.00,240.29 L382.94,238.79 L383.87,237.30 L384.81,235.83 L385.75,234.37 L386.69,232.93 L387.63,231.50 L388.57,230.08 L389.51,228.68 L390.44,227.30 L391.38,225.92 L392.32,224.56 L393.26,223.21 L394.20,221.87 L395.14,220.54 L396.08,219.22 L397.01,217.91 L397.95,216.61 L398.89,215.32 L399.83,214.04 L400.77,212.77 L401.71,211.51 L402.64,210.26 L403.58,209.01 L404.52,207.77 L405.46,206.54 L406.40,205.31 L407.34,204.09 L408.28,202.89 L409.21,201.69 L410.15,200.50 L411.09,199.32 L412.03,198.14 L412.97,196.98 L413.91,195.83 L414.84,194.69 L415.78,193.56 L416.72,192.44 L417.66,191.34 L418.60,190.24 L419.54,189.16 L420.48,188.09 L421.41,187.03 L422.35,185.98 L423.29,184.95 L424.23,183.93 L425.17,182.92 L426.11,181.93 L427.05,180.96 L427.98,179.99 L428.92,179.05 L429.86,178.12 L430.80,177.20 L431.74,176.30 L432.68,175.41 L433.61,174.55 L434.55,173.69 L435.49,172.86 L436.43,172.04 L437.37,171.24 L438.31,170.46 L439.25,169.70 L440.18,168.95 L441.12,168.23 L442.06,167.52 L443.00,166.83 L443.94,166.17 L444.88,165.52 L445.81,164.89 L446.75,164.28 L447.69,163.70 L448.63,163.13 L449.57,162.59 L450.51,162.07 L451.45,161.56 L452.38,161.08 L453.32,160.62 L454.26,160.18 L455.20,159.77 L456.14,159.40 L457.08,159.06 L458.02,158.73 L458.95,158.42 L459.89,158.13 L460.83,157.87 L461.77,157.62 L462.71,157.39 L463.65,157.17 L464.58,156.98 L465.52,156.80 L466.46,156.65 L467.40,156.51 L468.34,156.39 L469.28,156.28 L470.22,156.20 L471.15,156.13 L472.09,156.07 L473.03,156.04 L473.97,156.02 L474.91,156.02 L475.85,156.03 L476.78,156.06 L477.72,156.10 L478.66,156.14 L479.60,156.20 L480.54,156.28 L481.48,156.37 L482.42,156.48 L483.35,156.60 L484.29,156.74 L485.23,156.89 L486.17,157.06 L487.11,157.24 L488.05,157.43 L488.98,157.64 L489.92,157.86 L490.86,158.10 L491.80,158.35 L492.74,158.61 L493.68,158.89 L494.62,159.18 L495.55,159.48 L496.49,159.79 L497.43,160.12 L498.37,160.46 L499.31,160.81 L500.25,161.18 L501.19,161.55 L502.12,161.94 L503.06,162.34 L504.00,162.75 L504.94,163.17 L505.88,163.61 L506.82,164.05 L507.75,164.51 L508.69,164.97 L509.63,165.45 L510.57,165.93 L511.51,166.41 L512.45,166.90 L513.39,167.40 L514.32,167.91 L515.26,168.44 L516.20,168.97 L517.14,169.51 L518.08,170.06 L519.02,170.62 L519.95,171.18 L520.89,171.76 L521.83,172.34 L522.77,172.93 L523.71,173.53 L524.65,174.14 L525.59,174.75 L526.52,175.37 L527.46,175.99 L528.40,176.63 L529.34,177.26 L530.28,177.90 L531.22,178.55 L532.16,179.20 L533.09,179.85 L534.03,180.51 L534.97,181.17 L535.91,181.83 L536.85,182.50 L537.79,183.17 L538.72,183.84 L539.66,184.51 L540.60,185.19 L541.54,185.87 L542.48,186.54 L543.42,187.22 L544.36,187.90 L545.29,188.58 L546.23,189.26 L547.17,189.93 L548.11,190.61 L549.05,191.29 L549.99,191.97 L550.92,192.64 L551.86,193.32 L552.80,193.99 L553.74,194.66 L554.68,195.33 L555.62,196.00 L556.56,196.66 L557.49,197.32 L558.43,197.98 L559.37,198.64 L560.31,199.29 L561.25,199.95 L562.19,200.60 L563.13,201.24 L564.06,201.89 L565.00,202.53 L565.94,203.16 L566.88,203.79 L567.82,204.42 L568.76,205.04 L569.69,205.65 L570.63,206.26 L571.57,206.87 L572.51,207.47 L573.45,208.06 L574.39,208.65 L575.33,209.23 L576.26,209.80 L577.20,210.37 L578.14,210.93 L579.08,211.48 L580.02,212.03 L580.96,212.57 L581.89,213.10 L582.83,213.62 L583.77,214.14 L584.71,214.65 L585.65,215.14 L586.59,215.63 L587.53,216.12 L588.46,216.59 L589.40,217.05 L590.34,217.50 L591.28,217.95 L592.22,218.38 L593.16,218.81 L594.10,219.22 L595.03,219.62 L595.97,220.03 L596.91,220.43 L597.85,220.82 L598.79,221.20 L599.73,221.56 L600.66,221.92 L601.60,222.26 L602.54,222.59 L603.48,222.91 L604.42,223.21 L605.36,223.50 L606.30,223.78 L607.23,224.05 L608.17,224.31 L609.11,224.55 L610.05,224.77 L610.99,224.99 L611.93,225.19 L612.86,225.37 L613.80,225.55 L614.74,225.70 L615.68,225.85 L616.62,225.98 L617.56,226.09 L618.50,226.19 L619.43,226.27 L620.37,226.34 L621.31,226.38 L622.25,226.41 L623.19,226.42 L624.13,226.41 L625.07,226.39 L626.00,226.35 L626.94,226.30 L627.88,226.23 L628.82,226.14 L629.76,226.03 L630.70,225.91 L631.63,225.77 L632.57,225.62 L633.51,225.44 L634.45,225.26 L635.39,225.05 L636.33,224.84 L637.27,224.60 L638.20,224.35 L639.14,224.09 L640.08,223.81 L641.02,223.52 L641.96,223.22 L642.90,222.90 L643.83,222.56 L644.77,222.22 L645.71,221.86 L646.65,221.49 L647.59,221.10 L648.53,220.71 L649.47,220.30 L650.40,219.88 L651.34,219.44 L652.28,219.00 L653.22,218.54 L654.16,218.07 L655.10,217.59 L656.04,217.10 L656.97,216.60 L657.91,216.09 L658.85,215.57 L659.79,215.04 L660.73,214.51 L661.67,213.96 L662.60,213.40 L663.54,212.83 L664.48,212.26 L665.42,211.67 L666.36,211.07 L667.30,210.46 L668.24,209.84 L669.17,209.22 L670.11,208.58 L671.05,207.92 L671.99,207.26 L672.93,206.59 L673.87,205.90 L674.80,205.21 L675.74,204.50 L676.68,203.78 L677.62,203.05 L678.56,202.31 L679.50,201.56 L680.44,200.79 L681.37,200.00 L682.31,199.20 L683.25,198.39 L684.19,197.57 L685.13,196.73 L686.07,195.89 L687.01,195.02 L687.94,194.15 L688.88,193.26 L689.82,192.36 L690.76,191.45 L691.70,190.53 L692.64,189.60 L693.57,188.66 L694.51,187.71 L695.45,186.75 L696.39,185.79 L697.33,184.82 L698.27,183.85 L699.21,182.87 L700.14,181.89 L701.08,180.90 L702.02,179.92 L702.96,178.93 L703.90,177.94 L704.84,176.95 L705.77,175.95 L706.71,174.95 L707.65,173.96 L708.59,172.96 L709.53,171.95 L710.47,170.95 L711.41,169.95 L712.34,168.94 L713.28,167.94 L714.22,166.93 L715.16,165.93 L716.10,164.92 L717.04,163.92 L717.97,162.91 L718.91,161.91 L719.85,160.90 L720.79,159.90 L721.73,158.89 L722.67,157.89 L723.61,156.89 L724.54,155.89 L725.48,154.89 L726.42,153.89 L727.36,152.90 L728.30,151.91 L729.24,150.91 L730.18,149.93 L731.11,148.94 L732.05,147.96 L732.99,146.97 L733.93,146.00 L734.87,145.02 L735.81,144.05 L736.74,143.08 L737.68,142.12 L738.62,141.16 L739.56,140.20 L740.50,139.25 L741.44,138.31 L742.38,137.37 L743.31,136.44 L744.25,135.51 L745.19,134.58 L746.13,133.66 L747.07,132.75 L748.01,131.84 L748.94,130.94 L749.88,130.04 L750.82,129.15 L751.76,128.27 L752.70,127.39 L753.64,126.51 L754.58,125.65 L755.51,124.79 L756.45,123.94 L757.39,123.09 L758.33,122.25 L759.27,121.41 L760.21,120.58 L761.15,119.76 L762.08,118.94 L763.02,118.12 L763.96,117.31 L764.90,116.51 L765.84,115.71 L766.78,114.91 L767.71,114.12 L768.65,113.33 L769.59,112.55 L770.53,111.77 L771.47,110.99 L772.41,110.22 L773.35,109.45 L774.28,108.68 L775.22,107.92 L776.16,107.16 L777.10,106.40 L778.04,105.65 L778.98,104.89 L779.91,104.14 L780.85,103.39 L781.79,102.65 L782.73,101.90 L783.67,101.16 L784.61,100.41 L785.55,99.67 L786.48,98.93 L787.42,98.19 L788.36,97.45 L789.30,96.72 L790.24,95.98 L791.18,95.24 L792.12,94.50 L793.05,93.77 L793.99,93.03 L794.93,92.29 L795.87,91.55 L796.81,90.81 L797.75,90.07 L798.68,89.33 L799.62,88.59 L800.56,87.84 L801.50,87.10"/>
<path stroke="#800080" d="M145.50,497.27 L146.81,497.26 L148.12,497.27 L149.44,497.29 L150.75,497.32 L152.06,497.36 L153.37,497.42 L153.62,497.43 M161.25,497.93 L162.56,498.04 L163.87,498.16 L165.18,498.30 L166.49,498.43 L167.81,498.58 L169.12,498.73 L169.36,498.76 M176.91,499.76 L178.22,499.95 L179.53,500.15 L180.85,500.35 L182.16,500.55 L183.47,500.76 L184.78,500.97 L184.95,501.00 M192.49,502.26 L193.80,502.49 L195.12,502.72 L196.43,502.95 L197.74,503.17 L199.05,503.40 L200.36,503.62 L200.45,503.63 M207.99,504.81 L209.30,505.00 L210.62,505.17 L211.93,505.33 L213.24,505.49 L214.55,505.63 L215.86,505.76 L216.03,505.78 M223.66,506.24 L224.97,506.26 L226.28,506.26 L227.59,506.25 L228.90,506.21 L230.22,506.15 L231.53,506.07 L231.77,506.06 M239.40,505.09 L240.63,504.85 L241.86,504.59 L243.09,504.29 L244.32,503.97 L245.55,503.61 L246.78,503.23 L247.19,503.09 M254.25,500.11 L255.39,499.50 L256.54,498.86 L257.69,498.17 L258.84,497.44 L259.99,496.67 L261.13,495.85 M267.04,490.94 L267.94,490.07 L268.84,489.17 L269.75,488.24 L270.65,487.28 L271.55,486.29 L272.45,485.26 L272.53,485.16 M277.29,479.12 L278.03,478.10 L278.77,477.04 L279.50,475.96 L280.24,474.86 L280.98,473.72 L281.72,472.57 L281.80,472.44 M285.82,465.77 L286.39,464.76 L286.97,463.75 L287.54,462.72 L288.12,461.68 L288.69,460.62 L289.26,459.56 L289.67,458.79 M293.20,451.96 L293.77,450.81 L294.35,449.66 L294.92,448.49 L295.50,447.31 L296.07,446.12 L296.64,444.93 L296.73,444.76 M300.01,437.74 L300.50,436.66 L300.99,435.58 L301.48,434.48 L301.98,433.38 L302.47,432.27 L302.96,431.15 L303.29,430.41 M306.32,423.31 L306.81,422.13 L307.31,420.95 L307.80,419.75 L308.29,418.55 L308.78,417.34 L309.27,416.11 L309.36,415.91 M312.23,408.60 L312.64,407.53 L313.05,406.46 L313.46,405.37 L313.87,404.28 L314.28,403.19 L314.69,402.08 L315.02,401.20 M317.64,393.97 L318.05,392.81 L318.46,391.66 L318.87,390.49 L319.28,389.32 L319.69,388.15 L320.10,386.97 L320.35,386.26 M322.81,379.04 L323.22,377.82 L323.63,376.60 L324.04,375.37 L324.45,374.13 L324.86,372.89 L325.27,371.65 L325.35,371.40 M327.73,364.14 L328.14,362.90 L328.55,361.66 L328.96,360.45 L329.37,359.23 L329.78,358.05 L330.19,356.88 L330.27,356.65 M333.06,349.31 L333.55,348.10 L334.04,346.90 L334.53,345.71 L335.03,344.52 L335.52,343.32 L336.01,342.13 L336.09,341.93 M339.04,334.66 L339.54,333.45 L340.03,332.24 L340.52,331.02 L341.01,329.82 L341.50,328.61 L342.00,327.41 M345.03,320.12 L345.52,318.96 L346.02,317.81 L346.51,316.66 L347.00,315.52 L347.49,314.39 L347.98,313.25 L348.23,312.69 M351.35,305.70 L351.84,304.62 L352.33,303.55 L352.82,302.48 L353.31,301.42 L353.81,300.36 L354.30,299.31 L354.71,298.43 M357.99,291.61 L358.56,290.44 L359.14,289.28 L359.71,288.13 L360.28,286.99 L360.86,285.85 L361.43,284.73 L361.68,284.25 M365.21,277.51 L365.86,276.29 L366.52,275.08 L367.17,273.88 L367.83,272.68 L368.49,271.51 L369.14,270.34 M372.83,263.93 L373.49,262.82 L374.14,261.73 L374.80,260.64 L375.46,259.56 L376.11,258.49 L376.77,257.43 L377.18,256.78 M381.12,250.63 L381.85,249.52 L382.59,248.41 L383.33,247.31 L384.07,246.23 L384.81,245.15 L385.54,244.08 L385.87,243.61 M390.05,237.78 L390.87,236.67 L391.69,235.57 L392.51,234.48 L393.33,233.41 L394.16,232.34 L394.98,231.29 L395.22,230.97 M399.57,225.56 L400.47,224.47 L401.37,223.39 L402.27,222.32 L403.18,221.26 L404.08,220.21 L404.98,219.18 L405.06,219.08 M409.57,214.04 L410.56,212.97 L411.54,211.91 L412.53,210.86 L413.51,209.82 L414.49,208.78 L415.48,207.76 M420.07,203.09 L421.05,202.11 L422.04,201.14 L423.02,200.18 L424.01,199.23 L424.99,198.29 L425.98,197.36 L426.30,197.06 M430.98,192.84 L432.13,191.85 L433.27,190.88 L434.42,189.93 L435.57,189.00 L436.72,188.09 L437.87,187.21 M442.79,183.72 L444.02,182.92 L445.25,182.17 L446.48,181.45 L447.71,180.78 L448.94,180.16 L450.17,179.60 L450.58,179.42 M456.15,177.58 L457.63,177.24 L459.11,176.97 L460.58,176.76 L462.06,176.59 L463.54,176.48 L465.01,176.41 M470.67,176.49 L472.06,176.58 L473.46,176.70 L474.85,176.85 L476.25,177.03 L477.64,177.24 L479.04,177.47 L479.45,177.54 M484.86,178.74 L486.25,179.11 L487.65,179.51 L489.04,179.94 L490.44,180.39 L491.83,180.87 L493.22,181.38 L493.31,181.41 M498.47,183.52 L499.78,184.11 L501.10,184.72 L502.41,185.36 L503.72,186.01 L505.03,186.69 L506.35,187.39 L506.43,187.44 M511.18,190.16 L512.41,190.92 L513.64,191.69 L514.87,192.47 L516.10,193.28 L517.33,194.10 L518.56,194.95 L518.65,195.00 M523.08,198.19 L524.22,199.05 L525.37,199.93 L526.52,200.82 L527.67,201.73 L528.82,202.66 L529.96,203.59 L530.05,203.66 M534.23,207.21 L535.29,208.14 L536.36,209.07 L537.43,210.01 L538.49,210.94 L539.56,211.87 L540.63,212.79 L540.87,213.00 M545.14,216.55 L546.28,217.47 L547.43,218.39 L548.58,219.29 L549.73,220.20 L550.88,221.10 L552.02,222.02 M556.29,225.53 L557.36,226.43 L558.42,227.35 L559.49,228.28 L560.55,229.21 L561.62,230.15 L562.69,231.09 L562.93,231.31 M567.03,234.95 L568.10,235.89 L569.16,236.82 L570.23,237.75 L571.30,238.67 L572.36,239.58 L573.43,240.48 L573.68,240.69 M577.94,244.13 L579.09,245.01 L580.24,245.88 L581.38,246.72 L582.53,247.54 L583.68,248.34 L584.83,249.12 L585.07,249.28 M589.67,252.18 L590.90,252.90 L592.13,253.61 L593.36,254.28 L594.59,254.94 L595.82,255.57 L597.05,256.18 L597.46,256.38 M602.38,258.56 L603.77,259.11 L605.17,259.64 L606.56,260.13 L607.96,260.60 L609.35,261.04 L610.74,261.45 M615.99,262.74 L617.39,263.02 L618.78,263.27 L620.18,263.49 L621.57,263.69 L622.96,263.85 L624.36,263.99 L624.77,264.03 M630.26,264.27 L631.74,264.27 L633.21,264.23 L634.69,264.17 L636.17,264.07 L637.64,263.94 L639.12,263.79 M644.61,262.95 L646.01,262.67 L647.40,262.36 L648.80,262.03 L650.19,261.67 L651.59,261.29 L652.98,260.88 L653.31,260.78 M658.47,259.00 L659.79,258.49 L661.10,257.95 L662.41,257.40 L663.72,256.81 L665.03,256.21 L666.35,255.58 L666.76,255.38 M671.60,252.81 L672.83,252.10 L674.06,251.38 L675.29,250.63 L676.52,249.86 L677.75,249.07 L678.98,248.26 L679.30,248.04 M683.82,244.93 L684.96,244.11 L686.11,243.27 L687.26,242.43 L688.41,241.59 L689.56,240.73 L690.70,239.87 L691.11,239.56 M695.46,236.26 L696.61,235.38 L697.76,234.51 L698.91,233.63 L700.05,232.76 L701.20,231.89 L702.35,231.02 L702.68,230.77 M707.02,227.47 L708.17,226.60 L709.32,225.73 L710.47,224.85 L711.62,223.97 L712.76,223.09 L713.91,222.21 L714.16,222.02 M718.51,218.63 L719.65,217.72 L720.80,216.81 L721.95,215.89 L723.10,214.96 L724.25,214.03 L725.39,213.09 L725.56,212.95 M729.82,209.38 L730.89,208.47 L731.96,207.55 L733.02,206.62 L734.09,205.69 L735.15,204.75 L736.22,203.80 L736.55,203.50 M740.65,199.83 L741.71,198.87 L742.78,197.92 L743.85,196.97 L744.91,196.02 L745.98,195.08 L747.05,194.15 L747.46,193.80 M751.64,190.27 L752.79,189.33 L753.93,188.42 L755.08,187.52 L756.23,186.65 L757.38,185.79 L758.53,184.96 L758.77,184.78 M763.28,181.64 L764.51,180.82 L765.74,180.00 L766.97,179.20 L768.20,178.40 L769.43,177.60 L770.66,176.81 L770.83,176.70 M775.50,173.68 L776.73,172.87 L777.96,172.05 L779.19,171.23 L780.42,170.39 L781.65,169.55 L782.88,168.70 L782.97,168.64 M787.48,165.50 L788.71,164.63 L789.94,163.77 L791.17,162.92 L792.40,162.06 L793.63,161.22 L794.86,160.38 M799.45,157.33 L799.78,157.11 L800.11,156.90 L800.43,156.69 L800.76,156.49 L801.09,156.28 L801.42,156.07 L801.50,156.02"/>
<path stroke="#000" d="M720,459.4 H778.5"/>
<path stroke="#0038f5" stroke-dasharray="4.2 8.3" d="M720,484.6 H778.5"/>
<path stroke="#008000" stroke-dasharray="11.2 7.9 3.2 8 3.2 7.7" d="M720,509.4 H778.5"/>
<path stroke="#ff0000" stroke-dasharray="22.4 10.8" d="M720,534.4 H778.5"/>
<path stroke="#800080" stroke-dasharray="8.5 8.17" d="M720,559.4 H778.5"/>
</g>
<rect x="145.5" y="23.0" width="656.0" height="561.0" fill="none" stroke="#000" stroke-width="1.65"/>
<g font-family="Liberation Sans, sans-serif" font-size="21px" fill="#000">
<text id="y0" x="134.16" y="590.00" text-anchor="end" letter-spacing="-0.035">0.035</text>
<text id="y1" x="134.18" y="497.00" text-anchor="end" letter-spacing="-0.013">0.04</text>
<text id="y2" x="134.16" y="403.00" text-anchor="end" letter-spacing="-0.035">0.045</text>
<text id="y3" x="134.33" y="310.00" text-anchor="end" letter-spacing="-0.025">0.05</text>
<text id="y4" x="134.16" y="216.00" text-anchor="end" letter-spacing="-0.035">0.055</text>
<text id="y5" x="134.36" y="123.00" text-anchor="end" letter-spacing="0.007">0.06</text>
<text id="y6" x="134.16" y="29.00" text-anchor="end" letter-spacing="-0.035">0.065</text>
<text id="x0" x="145.26" y="616.00" text-anchor="middle">0</text>
<text id="x1" x="261.83 273.43 280.75" y="616.00">0.1</text>
<path fill="#fff" stroke="none" d="M281,613.45 H286.02 V616.6 H281 Z M287.98,613.45 H292.2 V616.6 H287.98 Z"/>
<text id="x2" x="408.01" y="616.00" text-anchor="middle" letter-spacing="-0.231">0.2</text>
<text id="x3" x="539.15" y="616.00" text-anchor="middle" letter-spacing="-0.277">0.3</text>
<text id="x4" x="670.27" y="616.00" text-anchor="middle" letter-spacing="-0.145">0.4</text>
<text id="x5" x="801.56" y="616.00" text-anchor="middle" letter-spacing="-0.127">0.5</text>
<text id="time" x="473.37" y="653.00" text-anchor="middle" letter-spacing="-0.024">Time</text>
<text id="ylab" transform="translate(47.30,303.88) rotate(-90)" text-anchor="middle" letter-spacing="-0.100">Magnetic energy</text>
<text id="leg0" x="708.58" y="466.00" text-anchor="end" letter-spacing="-0.019">Control</text>
<text id="leg1" x="707.22" y="491.00" text-anchor="end" letter-spacing="-0.138">Resistivity</text>
<text id="leg2" x="707.83" y="516.00" text-anchor="end" letter-spacing="-0.084">Euler Potentials</text>
<text id="leg3" x="708.38" y="541.00" text-anchor="end" letter-spacing="-0.079">Difference Cleaning</text>
<text id="leg4" x="708.45" y="565.00" text-anchor="end" letter-spacing="-0.071">Symmetric Cleaning</text>
</g>
</svg>
</body></html>
